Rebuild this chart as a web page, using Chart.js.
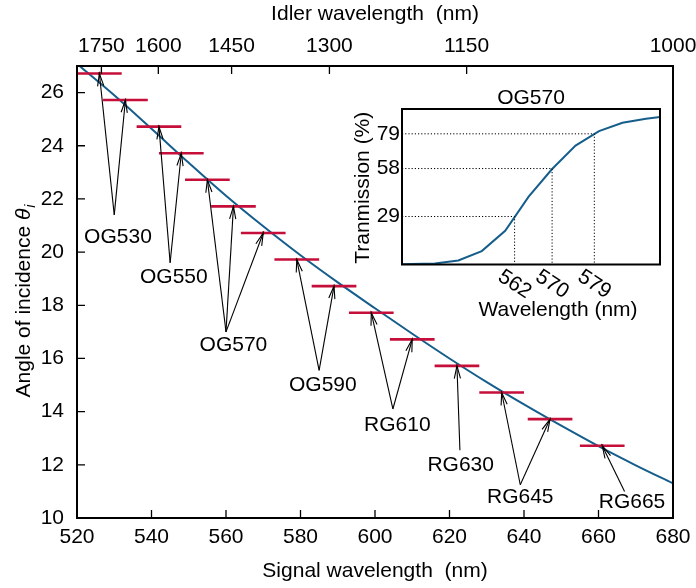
<!DOCTYPE html>
<html>
<head>
<meta charset="utf-8">
<script src="https://cdn.jsdelivr.net/npm/chart.js@4.4.1/dist/chart.umd.min.js"></script>
<style>
html,body{margin:0;padding:0;background:#fff;}
#wrap{position:relative;width:696px;height:588px;}
#wrap canvas{position:absolute;left:0;top:0;}
</style>
</head>
<body>
<div id="wrap">
<canvas id="main" width="696" height="588"></canvas>
<canvas id="inset" width="696" height="588"></canvas>
</div>
<script>
// ---------------- data ----------------
const signalWl = [520,530,540,550,560,570,580,590,600,610,620,630,640,650,660,670,680];
const phaseMatchAngle = [27.08,25.9,24.64,23.36,22.12,20.97,19.88,18.86,17.89,16.93,16.0,15.11,14.27,13.47,12.7,11.98,11.3];

const filterCenterWl = [526,533,542,548,555,562,570,579,589,599,610,622,634,647,661];
const filterAngle = [26.72,25.72,24.72,23.72,22.72,21.72,20.72,19.72,18.72,17.72,16.72,15.72,14.72,13.72,12.72];
const filterHalfWidth = 6;

const filterNames = ['OG530','OG550','OG570','OG590','RG610','RG630','RG645','RG665'];
const filterGroups = [[0,1],[2,3],[4,5,6],[7,8],[9,10],[11],[12,13],[14]];
const labelTextWl = [531,546,562,586,606,623,639,669];
const labelTextAngle = [20.55,19.05,16.5,15.0,13.5,12.0,10.8,10.58];
const labelTailWl = [530,545,560,585,604.8,622.8,639,667];
const labelTailAngle = [21.4,19.6,17.0,15.55,14.1,12.55,11.25,11.0];

const signalTicks = [520,540,560,580,600,620,640,660,680];
const angleTicks = [10,12,14,16,18,20,22,24,26];
const idlerTicks = [1750,1600,1450,1300,1150,1000];
const pumpWl = 1/(1/680 + 1/1000);   // pump wavelength (nm) linking signal & idler axes

// inset: OG570 transmission
const insetWl = [535,540,545,550,555,560,565,570,575,580,585,590,595];
const insetTrans = [0.1,0.3,0.6,2.4,8.1,20.4,41.0,57.7,71.9,80.6,85.7,88.1,89.8];
const insetMarkWl = [562,570,579];
const insetMarkTrans = [29,58,79];

// ---------------- styles ----------------
const FONT = '"Liberation Sans", Arial, Helvetica, sans-serif';
const FS = 21;
const BLUE = '#155e8c';
const RED = '#c50f3a';
const DARKRED = '#8e0a28';

function idlerToSignal(li){ return 1/(1/pumpWl - 1/li); }

const segData = [];
filterCenterWl.forEach((c,i)=>{
  segData.push({x:c-filterHalfWidth, y:filterAngle[i]});
  segData.push({x:c+filterHalfWidth, y:filterAngle[i]});
  segData.push({x:c+filterHalfWidth+0.01, y:null});
});

function drawArrow(ctx,x0,y0,x1,y1){
  ctx.beginPath(); ctx.moveTo(x0,y0); ctx.lineTo(x1,y1); ctx.stroke();
  const a = Math.atan2(y1-y0,x1-x0), L=13, s=0.24;
  ctx.beginPath();
  ctx.moveTo(x1-L*Math.cos(a-s), y1-L*Math.sin(a-s));
  ctx.lineTo(x1,y1);
  ctx.lineTo(x1-L*Math.cos(a+s), y1-L*Math.sin(a+s));
  ctx.stroke();
}

const mainDecor = {
  id:'mainDecor',
  afterDatasetsDraw(chart){
    const {ctx, chartArea:ca, scales} = chart;
    const xs = scales.x, ys = scales.y;
    ctx.save();
    // arrows + labels
    ctx.strokeStyle='#000'; ctx.lineWidth=1.1;
    filterGroups.forEach((g,k)=>{
      const tx = xs.getPixelForValue(labelTailWl[k]), ty = ys.getPixelForValue(labelTailAngle[k]);
      g.forEach(i=>{
        drawArrow(ctx, tx, ty, xs.getPixelForValue(filterCenterWl[i]), ys.getPixelForValue(filterAngle[i]));
      });
    });
    ctx.fillStyle='#000';
    ctx.font = FS+'px '+FONT;
    ctx.textAlign='center'; ctx.textBaseline='middle';
    filterNames.forEach((n,k)=>{
      ctx.fillText(n, xs.getPixelForValue(labelTextWl[k]), ys.getPixelForValue(labelTextAngle[k]));
    });
    // frame
    ctx.strokeStyle='#000'; ctx.lineWidth=2;
    ctx.strokeRect(ca.left, ca.top, ca.right-ca.left, ca.bottom-ca.top);
    // inward ticks
    ctx.lineWidth=1.3;
    const T=8;
    ctx.beginPath();
    signalTicks.forEach(v=>{
      if(v<=xs.min||v>=xs.max) return;
      const p=xs.getPixelForValue(v);
      ctx.moveTo(p,ca.bottom); ctx.lineTo(p,ca.bottom-T);
    });
    idlerTicks.forEach(v=>{
      const p=xs.getPixelForValue(idlerToSignal(v));
      if(p>=ca.right-1) return;
      ctx.moveTo(p,ca.top); ctx.lineTo(p,ca.top+T);
    });
    angleTicks.forEach(v=>{
      if(v<=ys.min) return;
      const p=ys.getPixelForValue(v);
      ctx.moveTo(ca.left,p); ctx.lineTo(ca.left+T,p);
    });
    ctx.stroke();
    // y title with theta_i
    ctx.translate(24, 301);
    ctx.rotate(-Math.PI/2);
    ctx.textAlign='left'; ctx.textBaseline='middle';
    const t1='Angle of incidence ';
    ctx.font = FS+'px '+FONT;
    const w1=ctx.measureText(t1).width;
    ctx.font = 'italic '+FS+'px '+FONT;
    const w2=ctx.measureText('\u03B8').width;
    ctx.font = 'italic 14px '+FONT;
    const w3=ctx.measureText('i').width;
    let x0=-(w1+w2+w3+1)/2;
    ctx.font = FS+'px '+FONT; ctx.fillText(t1,x0,0);
    ctx.font = 'italic '+FS+'px '+FONT; ctx.fillText('\u03B8',x0+w1,0);
    ctx.font = 'italic 14px '+FONT; ctx.fillText('i',x0+w1+w2+1,7);
    ctx.restore();
  }
};

new Chart(document.getElementById('main'),{
  type:'line',
  data:{datasets:[
    {label:'filters', data:segData, borderColor:RED, borderWidth:2.6, pointRadius:0, spanGaps:false, tension:0},
    {label:'centers', data:filterCenterWl.map((c,i)=>({x:c,y:filterAngle[i]})), showLine:false, pointRadius:1.6, pointBackgroundColor:DARKRED, pointBorderWidth:0},
    {label:'phase matching', data:signalWl.map((x,i)=>({x:x,y:phaseMatchAngle[i]})), borderColor:BLUE, borderWidth:2, pointRadius:0, cubicInterpolationMode:'monotone'}
  ]},
  options:{
    responsive:false, animation:false,
    layout:{padding:{left:0,right:23,top:0,bottom:0}},
    plugins:{legend:{display:false}, tooltip:{enabled:false}},
    scales:{
      x:{type:'linear', position:'bottom', min:520, max:680,
        afterBuildTicks:s=>{s.ticks=signalTicks.map(v=>({value:v}));},
        afterFit:s=>{s.height=70; s.paddingLeft=0; s.paddingRight=0;},
        grid:{display:false, drawTicks:false}, border:{display:false},
        ticks:{autoSkip:false, maxRotation:0, padding:7, color:'#000', font:{family:FONT,size:FS}},
        title:{display:true, text:'Signal wavelength  (nm)', color:'#000', font:{family:FONT,size:FS}, padding:{top:0,bottom:4}}
      },
      x2:{type:'linear', position:'top', min:520, max:680,
        afterBuildTicks:s=>{s.ticks=idlerTicks.map(v=>({value:idlerToSignal(v)}));},
        afterFit:s=>{s.height=66; s.paddingLeft=0; s.paddingRight=0;},
        grid:{display:false, drawTicks:false}, border:{display:false},
        ticks:{autoSkip:false, maxRotation:0, padding:7, color:'#000', font:{family:FONT,size:FS},
          callback:(v,i)=>String(idlerTicks[i])},
        title:{display:true, text:'Idler wavelength  (nm)', color:'#000', font:{family:FONT,size:FS}, padding:{top:2,bottom:0}}
      },
      y:{type:'linear', min:10, max:27,
        afterBuildTicks:s=>{s.ticks=angleTicks.map(v=>({value:v}));},
        afterFit:s=>{s.width=77; s.paddingTop=0; s.paddingBottom=0;},
        grid:{display:false, drawTicks:false}, border:{display:false},
        ticks:{padding:13, color:'#000', font:{family:FONT,size:FS}}
      }
    }
  },
  plugins:[mainDecor]
});

// ---------------- inset ----------------
const insetDecor = {
  id:'insetDecor',
  afterDatasetsDraw(chart){
    const {ctx, chartArea:ca, scales} = chart;
    const xs=scales.x, ys=scales.y;
    ctx.save();
    // dotted guides
    ctx.strokeStyle='#000'; ctx.lineWidth=1; ctx.setLineDash([1.2,2]);
    insetMarkWl.forEach((w,i)=>{
      const px=xs.getPixelForValue(w), py=ys.getPixelForValue(insetMarkTrans[i]);
      ctx.beginPath(); ctx.moveTo(ca.left,py); ctx.lineTo(px,py); ctx.lineTo(px,ca.bottom); ctx.stroke();
    });
    ctx.setLineDash([]);
    // frame
    ctx.lineWidth=2;
    ctx.strokeRect(ca.left, ca.top, ca.right-ca.left, ca.bottom-ca.top);
    // rotated x tick labels
    ctx.fillStyle='#000';
    ctx.font=FS+'px '+FONT;
    ctx.textAlign='center'; ctx.textBaseline='middle';
    insetMarkWl.forEach(w=>{
      const px=xs.getPixelForValue(w);
      ctx.save(); ctx.translate(px, ca.bottom+20); ctx.rotate(33*Math.PI/180);
      ctx.fillText(String(w),0,0); ctx.restore();
    });
    // titles
    ctx.fillText('OG570', (ca.left+ca.right)/2, ca.top-11);
    ctx.fillText('Wavelength (nm)', 558, ca.bottom+46);
    ctx.save(); ctx.translate(363, (ca.top+ca.bottom)/2+1); ctx.rotate(-Math.PI/2);
    ctx.fillText('Tranmission (%)',0,0); ctx.restore();
    ctx.restore();
  }
};

new Chart(document.getElementById('inset'),{
  type:'line',
  data:{datasets:[
    {label:'OG570', data:insetWl.map((x,i)=>({x:x,y:insetTrans[i]})), borderColor:BLUE, borderWidth:2, pointRadius:0, tension:0}
  ]},
  options:{
    responsive:false, animation:false,
    layout:{padding:{left:0,right:36,top:109,bottom:323.5}},
    plugins:{legend:{display:false}, tooltip:{enabled:false}},
    scales:{
      x:{type:'linear', display:false, min:538, max:593},
      y:{type:'linear', min:0, max:94,
        afterBuildTicks:s=>{s.ticks=insetMarkTrans.map(v=>({value:v}));},
        afterFit:s=>{s.width=402; s.paddingTop=0; s.paddingBottom=0;},
        grid:{display:false, drawTicks:false}, border:{display:false},
        ticks:{padding:2, color:'#000', font:{family:FONT,size:FS}}
      }
    }
  },
  plugins:[insetDecor]
});
</script>
</body>
</html>
